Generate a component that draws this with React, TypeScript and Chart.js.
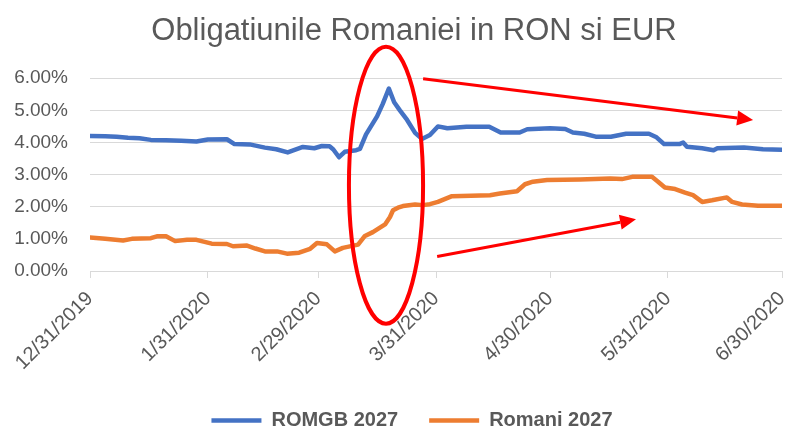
import React, { useEffect, useRef } from "react";
import { Chart, registerables } from "chart.js";

Chart.register(...registerables);

const TITLE = "Obligatiunile Romaniei in RON si EUR";

// x positions are days since 12/31/2019
const tickDays = [0, 31, 60, 91, 121, 152, 182];
const tickLabels = ["12/31/2019", "1/31/2020", "2/29/2020", "3/31/2020", "4/30/2020", "5/31/2020", "6/30/2020"];

const romgbDays = [0, 4, 7, 10, 13, 16, 20, 24, 28, 31, 36, 38, 42, 46, 49, 52, 56, 59, 61, 63, 64, 65.5, 67, 70, 71, 72.6, 75.5, 77, 78.6, 80, 81.5, 83.4, 85.5, 87.3, 89.4, 91.5, 94, 99, 105, 108, 113, 115, 121, 125, 127, 130, 133, 137, 141, 147, 149, 151, 155, 156, 157, 161, 164, 165, 172, 177, 182];
const romgbValues = [4.20, 4.19, 4.18, 4.15, 4.13, 4.08, 4.07, 4.05, 4.03, 4.09, 4.10, 3.95, 3.94, 3.84, 3.79, 3.69, 3.86, 3.82, 3.89, 3.88, 3.78, 3.54, 3.71, 3.76, 3.80, 4.25, 4.81, 5.20, 5.68, 5.25, 5.00, 4.70, 4.30, 4.11, 4.23, 4.50, 4.44, 4.49, 4.49, 4.31, 4.31, 4.41, 4.44, 4.42, 4.31, 4.27, 4.18, 4.18, 4.27, 4.27, 4.16, 3.95, 3.95, 4.00, 3.87, 3.82, 3.76, 3.82, 3.84, 3.79, 3.77];

const romaniDays = [0, 4, 8.7, 11, 16, 17.6, 20, 22.4, 25.5, 28, 32, 36, 37.6, 41.3, 43.5, 46, 49.2, 51.8, 55, 57.9, 59.7, 62.3, 64.4, 66.5, 70.5, 72.3, 74.4, 77.6, 78.9, 79.7, 81, 82.3, 85.5, 87.5, 89.4, 91.5, 95.2, 105.2, 107.8, 112.3, 114.4, 116.5, 120.2, 128.9, 136.8, 139.9, 142.6, 147.8, 149.4, 151.2, 153.9, 156.5, 158.6, 161, 163.6, 167.5, 168.9, 171.5, 175.7, 182];
const romaniValues = [1.04, 1.00, 0.95, 1.00, 1.02, 1.08, 1.08, 0.93, 0.97, 0.97, 0.85, 0.84, 0.77, 0.79, 0.70, 0.61, 0.61, 0.54, 0.57, 0.69, 0.87, 0.83, 0.61, 0.72, 0.82, 1.09, 1.21, 1.45, 1.68, 1.89, 1.97, 2.02, 2.07, 2.05, 2.08, 2.15, 2.33, 2.36, 2.41, 2.48, 2.70, 2.78, 2.83, 2.85, 2.88, 2.86, 2.93, 2.93, 2.78, 2.60, 2.55, 2.44, 2.36, 2.15, 2.20, 2.29, 2.15, 2.07, 2.03, 2.03];

const seriesNames = ["ROMGB 2027", "Romani 2027"];

// annotation shapes in data space: [day, value]
const ellipseBounds = { left: 68.1, right: 87.6, top: 6.98, bottom: -1.64 };
const arrows = [
  { from: [87.6, 5.98], to: [174.4, 4.70] },
  { from: [91.3, 0.45], to: [143.6, 1.61] },
];

const FONT = "'Liberation Sans', Arial, sans-serif";
const GREY = "#595959";

const annotationPlugin = {
  id: "redMarks",
  afterLayout(chart: any) {
    // centre title and legend slightly right of the canvas centre, like the reference
    if (chart.legend) chart.legend.left = 42;
    if (chart.titleBlock) chart.titleBlock.left = 46;
  },
  afterDraw(chart: any) {
    const { ctx, scales } = chart;
    const x = scales.x;
    const y = scales.y;
    ctx.save();
    ctx.strokeStyle = "#FF0000";
    ctx.fillStyle = "#FF0000";
    const l = x.getPixelForValue(ellipseBounds.left);
    const r = x.getPixelForValue(ellipseBounds.right);
    const t = y.getPixelForValue(ellipseBounds.top);
    const b = y.getPixelForValue(ellipseBounds.bottom);
    ctx.lineWidth = 4;
    ctx.beginPath();
    ctx.ellipse((l + r) / 2, (t + b) / 2, (r - l) / 2, (b - t) / 2, 0, 0, Math.PI * 2);
    ctx.stroke();
    arrows.forEach((a) => {
      const x1 = x.getPixelForValue(a.from[0]);
      const y1 = y.getPixelForValue(a.from[1]);
      const x2 = x.getPixelForValue(a.to[0]);
      const y2 = y.getPixelForValue(a.to[1]);
      const ang = Math.atan2(y2 - y1, x2 - x1);
      const headLen = 16;
      const headW = 7.5;
      const bx = x2 - headLen * Math.cos(ang);
      const by = y2 - headLen * Math.sin(ang);
      ctx.lineWidth = 3;
      ctx.beginPath();
      ctx.moveTo(x1, y1);
      ctx.lineTo(bx, by);
      ctx.stroke();
      ctx.beginPath();
      ctx.moveTo(x2, y2);
      ctx.lineTo(bx + headW * Math.sin(ang), by - headW * Math.cos(ang));
      ctx.lineTo(bx - headW * Math.sin(ang), by + headW * Math.cos(ang));
      ctx.closePath();
      ctx.fill();
    });
    ctx.restore();
  },
};

export default function App() {
  const ref = useRef<HTMLCanvasElement | null>(null);

  useEffect(() => {
    if (!ref.current) return;
    const toPts = (xs: number[], ys: number[]) => xs.map((d, i) => ({ x: d, y: ys[i] }));
    const chart = new Chart(ref.current, {
      type: "line",
      data: {
        datasets: [
          {
            label: seriesNames[0],
            data: toPts(romgbDays, romgbValues),
            borderColor: "#4472C4",
            backgroundColor: "#4472C4",
            borderWidth: 4.5,
            pointRadius: 0,
            tension: 0,
            borderJoinStyle: "round",
            borderCapStyle: "round",
          },
          {
            label: seriesNames[1],
            data: toPts(romaniDays, romaniValues),
            borderColor: "#ED7D31",
            backgroundColor: "#ED7D31",
            borderWidth: 4.5,
            pointRadius: 0,
            tension: 0,
            borderJoinStyle: "round",
            borderCapStyle: "round",
          },
        ],
      },
      options: {
        animation: false,
        responsive: false,
        maintainAspectRatio: false,
        layout: { padding: { left: 0, right: 8, top: 0, bottom: -14.5 } },
        plugins: {
          title: {
            display: true,
            text: TITLE,
            color: GREY,
            font: { family: FONT, size: 31, weight: "normal" },
            padding: { top: 13, bottom: 28 },
          },
          legend: {
            position: "bottom",
            labels: {
              usePointStyle: true,
              pointStyle: "line",
              pointStyleWidth: 50,
              color: GREY,
              font: { family: FONT, size: 20, weight: "bold" },
              padding: 31,
            },
          },
          tooltip: { enabled: false },
        },
        scales: {
          x: {
            type: "linear",
            min: 0,
            max: 182,
            afterBuildTicks: (scale: any) => {
              scale.ticks = tickDays.map((v) => ({ value: v }));
            },
            afterFit: (scale: any) => {
              scale.paddingRight = 0;
              scale.height = 108.5;
            },
            ticks: {
              autoSkip: false,
              maxRotation: 45,
              minRotation: 45,
              padding: 9,
              color: GREY,
              font: { family: FONT, size: 20 },
              callback: (v: any) => {
                const i = tickDays.indexOf(Number(v));
                return i >= 0 ? tickLabels[i] : "";
              },
            },
            grid: { drawOnChartArea: false, drawTicks: true, tickLength: 7, color: "#D9D9D9" },
            border: { display: true, color: "#D9D9D9", width: 1 },
          },
          y: {
            min: 0,
            max: 6,
            afterFit: (scale: any) => {
              scale.width = 90;
            },
            ticks: {
              stepSize: 1,
              color: GREY,
              font: { family: FONT, size: 19 },
              padding: 22,
              callback: (v: any) => Number(v).toFixed(2) + "%",
            },
            grid: { color: "#D9D9D9", lineWidth: 1, drawTicks: false },
            border: { display: false },
          },
        },
      },
      plugins: [annotationPlugin],
    } as any);
    return () => chart.destroy();
  }, []);

  return (
    <div style={{ position: "fixed", left: 0, top: 0, width: 790, height: 426, background: "#fff" }}>
      <canvas ref={ref} width={790} height={426} />
    </div>
  );
}
